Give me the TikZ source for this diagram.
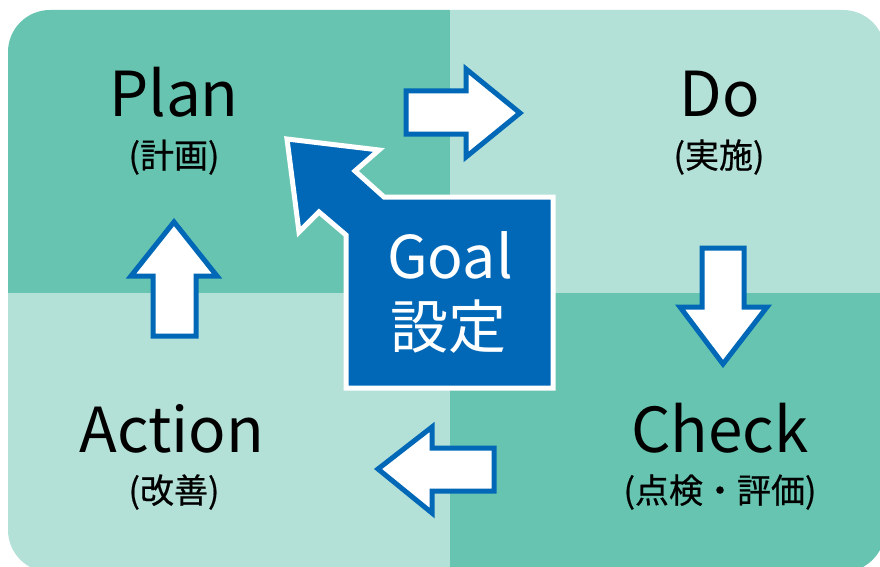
\documentclass[tikz,border=0pt]{standalone}
\usepackage{fontspec}
\setmainfont{Noto Sans CJK JP}
\newfontfamily\subfont[FakeBold=0.6]{Noto Sans CJK JP}
\definecolor{tealdark}{HTML}{67C4B1}
\definecolor{teallight}{HTML}{B3E0D7}
\definecolor{pdcablue}{HTML}{0068B7}
\tikzset{
  blockarrow/.style={fill=white, draw=pdcablue, line width=5pt, line join=miter},
  goalshape/.style={fill=pdcablue, draw=white, line width=5pt, line join=miter},
  bigword/.style={anchor=base, inner sep=0pt, font=\fontsize{62}{62}\selectfont},
  smallword/.style={anchor=base, inner sep=0pt, font=\subfont\fontsize{34}{34}\selectfont},
}
\begin{document}
\begin{tikzpicture}[x=1pt,y=-1pt]
\useasboundingbox (0,0) rectangle (880,567);
\begin{scope}
\clip (0,0) rectangle (880,567);
\clip[rounded corners=42pt] (8,10) rectangle (885,572);
\fill[tealdark] (0,0) rectangle (450,293);
\fill[teallight] (450,0) rectangle (890,293);
\fill[teallight] (0,293) rectangle (450,580);
\fill[tealdark] (450,293) rectangle (890,580);
\end{scope}
% labels
\node[bigword] (plan) at (174,117) {Plan};
\node[smallword] (plansub) at (174,168) {(計画)};
\node[bigword] (do) at (720,117) {Do};
\node[smallword] (dosub) at (719,168) {(実施)};
\node[bigword] (action) at (172,452) {Action};
\node[smallword] (actionsub) at (174,503) {(改善)};
\node[bigword] (check) at (720,452) {Check};
\node[smallword] (checksub) at (720,503) {(点検・評価)};
% block arrows
\draw[blockarrow] (406,91) -- (466,91) -- (466,69) -- (520,113) -- (466,157) -- (466,134) -- (406,134) -- cycle;
\draw[blockarrow] (702,248) -- (744,248) -- (744,307) -- (767,307) -- (723,364) -- (680,307) -- (702,307) -- cycle;
\draw[blockarrow] (378,469) -- (432,427) -- (432,448) -- (494,448) -- (494,491) -- (432,491) -- (432,513) -- cycle;
\draw[blockarrow] (174,222) -- (217,276) -- (196,276) -- (196,336) -- (153,336) -- (153,276) -- (131,276) -- cycle;
% goal
\draw[goalshape] (287,139) -- (379,150) -- (355,171) -- (384,197) -- (553,197) -- (553,388) -- (346,388) -- (346,235) -- (319,212) -- (299,232) -- cycle;
\node[anchor=base, inner sep=0pt, text=white, font=\fontsize{59}{59}\selectfont] (goal) at (450,278) {Goal};
\node[anchor=base, inner sep=0pt, text=white, font=\fontsize{58}{58}\selectfont] (goalsub) at (448,348) {設定};
\end{tikzpicture}
\end{document}
